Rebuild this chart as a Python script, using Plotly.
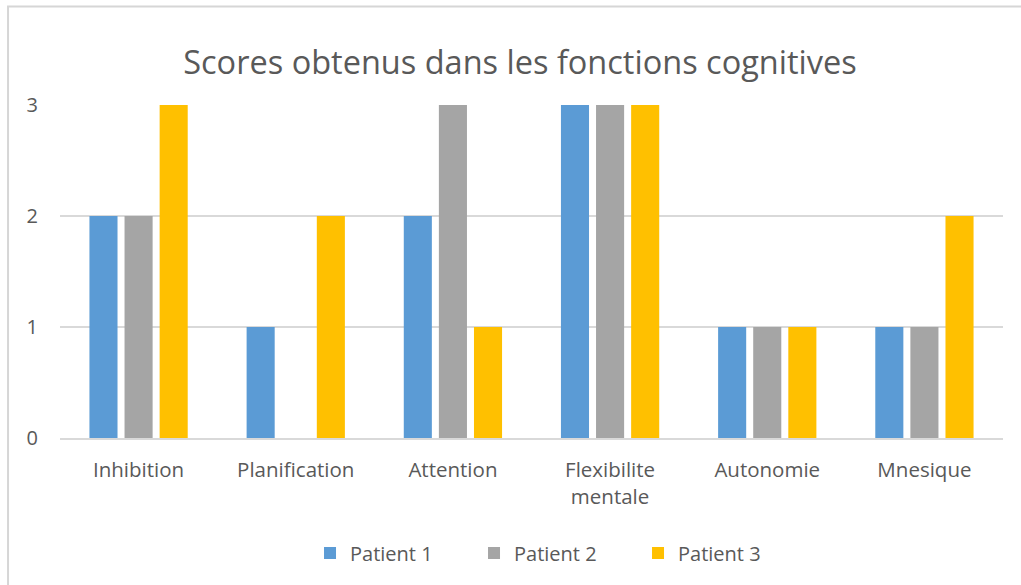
import plotly.graph_objects as go

categories = ['Inhibition', 'Planification', 'Attention', 'Flexibilite<br>mentale', 'Autonomie', 'Mnesique']
patient_1 = [2, 1, 2, 3, 1, 1]
patient_2 = [2, 0, 3, 3, 1, 1]
patient_3 = [3, 2, 1, 3, 1, 2]
y_ticks = [0, 1, 2, 3]

FONT = 'Open Sans'
TEXT = '#595959'

fig = go.Figure()
for name, values, color in [('Patient 1', patient_1, '#5B9BD5'),
                            ('Patient 2', patient_2, '#A5A5A5'),
                            ('Patient 3', patient_3, '#FFC000')]:
    fig.add_trace(go.Bar(x=categories, y=values, name=name, marker_color=color,
                         marker_line_width=0))

# light frame round the chart, as in the Excel export
fig.add_shape(type='rect', xref='paper', yref='paper',
              x0=-0.0551, x1=1.2, y0=-0.6, y1=1.296,
              line=dict(color='#D6D6D6', width=2), fillcolor='rgba(0,0,0,0)')

fig.update_layout(
    width=1021, height=585,
    margin=dict(l=60, r=18, t=105, b=147),
    paper_bgcolor='white', plot_bgcolor='white',
    font=dict(family=FONT, color=TEXT, size=20),
    title=dict(text='Scores obtenus dans les fonctions cognitives',
               x=520 / 1021, xref='container', y=1 - 63 / 585, yanchor='middle',
               font=dict(family=FONT, size=32.5, color=TEXT)),
    barmode='group', bargap=0.33, bargroupgap=0.2,
    showlegend=True,
    legend=dict(orientation='h', x=0.526, xanchor='center', y=-0.345, yanchor='middle',
                font=dict(size=20, color=TEXT), entrywidth=119, itemwidth=30),
)
fig.update_yaxes(range=[0, 3], tickvals=y_ticks, showgrid=True, gridcolor='#D9D9D9',
                 gridwidth=1.5, zeroline=False, showline=False, ticklabelstandoff=21,
                 tickfont=dict(size=20, color=TEXT))
fig.update_xaxes(showline=True, linecolor='#D9D9D9', linewidth=1.5, ticks='',
                 tickfont=dict(size=20.5, color=TEXT), ticklabelstandoff=13)

# drop the default 8px body margin so the figure sits at the page corner
fig.write_html('out.html', config={'displayModeBar': False},
               post_script="document.body.style.margin='0';")
